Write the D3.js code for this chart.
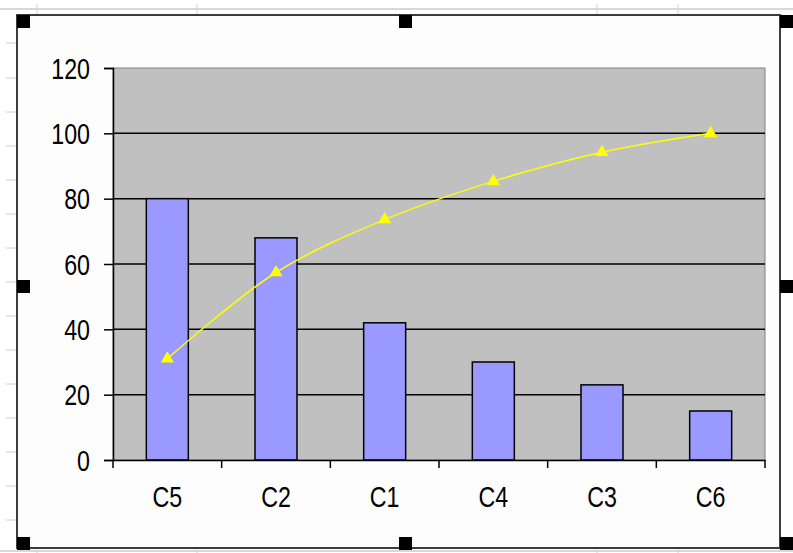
<!DOCTYPE html>
<html>
<head>
<meta charset="utf-8">
<script src="https://cdn.jsdelivr.net/npm/d3@7"></script>
<style>
  body { margin: 0; background: #fff; }
  svg text { font-family: "Liberation Sans", Arial, sans-serif; fill: #000; }
</style>
</head>
<body>
<svg width="793" height="553"></svg>
<script>
// **** data ****
var categories = ["C5", "C2", "C1", "C4", "C3", "C6"];
var counts = [80, 68, 42, 30, 23, 15];
var cumulative = [31, 57.4, 73.6, 85.3, 94.2, 100];
var yTicks = [0, 20, 40, 60, 80, 100, 120];

var svg = d3.select("svg");

// **** spreadsheet behind the chart ****
var sheet = svg.append("g").attr("class", "sheet");
sheet.append("line").attr("x1", 0).attr("x2", 793).attr("y1", 9).attr("y2", 9)
    .attr("stroke", "#d8d8d8").attr("stroke-width", 2);
sheet.append("line").attr("x1", 0).attr("x2", 793).attr("y1", 551).attr("y2", 551)
    .attr("stroke", "#d8d8d8").attr("stroke-width", 2);
[37, 197, 597, 678].forEach(function(x) {
    sheet.append("line").attr("x1", x).attr("x2", x).attr("y1", 4).attr("y2", 15)
        .attr("stroke", "#d0d0d0");
    sheet.append("line").attr("x1", x).attr("x2", x).attr("y1", 547).attr("y2", 553)
        .attr("stroke", "#d0d0d0");
});
[43, 78, 112, 146, 180, 214, 248, 282, 316, 350, 384, 418, 452, 486, 520].forEach(function(y) {
    sheet.append("line").attr("x1", 6).attr("x2", 17).attr("y1", y).attr("y2", y)
        .attr("stroke", "#d0d0d0");
});

// chart area frame
svg.append("rect").attr("x", 17).attr("y", 15).attr("width", 763).attr("height", 533)
    .attr("fill", "#fdfdfd").attr("stroke", "#3c3c3c").attr("stroke-width", 2);

// **** scales and axes ****
var x = d3.scaleBand().domain(categories).range([113, 765]);
var y = d3.scaleLinear().domain([0, 120]).range([460, 68]);

var plot = svg.append("g").attr("class", "plot");
plot.append("rect").attr("x", 113).attr("y", 68).attr("width", 652).attr("height", 392)
    .attr("fill", "#c0c0c0").attr("stroke", "#808080").attr("stroke-width", 1);

// gridlines
plot.selectAll("line.grid")
    .data(yTicks.filter(function(d) { return d > 0 && d < 120; }))
    .enter().append("line")
    .attr("class", "grid")
    .attr("x1", 113).attr("x2", 765)
    .attr("y1", function(d) { return y(d); })
    .attr("y2", function(d) { return y(d); })
    .attr("stroke", "#000").attr("stroke-width", 1.5);

// bars
plot.selectAll("rect.bar")
    .data(counts)
    .enter().append("rect")
    .attr("class", "bar")
    .attr("x", function(d, i) { return x(categories[i]) + x.bandwidth() / 2 - 21; })
    .attr("width", 42)
    .attr("y", function(d) { return y(d); })
    .attr("height", function(d) { return y(0) - y(d); })
    .attr("fill", "#9999ff").attr("stroke", "#000").attr("stroke-width", 1.5);

// tall narrow labels like the old Excel screen font
function squeeze(sel, dx, dy) {
    sel.style("font-size", "29px")
        .attr("x", null).attr("y", null).attr("dy", null)
        .attr("transform", "translate(" + dx + "," + dy + ") scale(0.8,1)");
}

// y axis
var yAxis = svg.append("g").attr("transform", "translate(113,0)")
    .call(d3.axisLeft(y).tickValues(yTicks).tickSize(9));
yAxis.select(".domain").attr("stroke", "#000").attr("stroke-width", 1.5);
yAxis.selectAll(".tick line").attr("stroke", "#000").attr("stroke-width", 1.5);
squeeze(yAxis.selectAll("text"), -23, 10);

// x axis, ticks on the category boundaries
var xAxis = svg.append("g").attr("transform", "translate(0,460)")
    .call(d3.axisBottom(x).tickSize(0));
xAxis.select(".domain").attr("stroke", "#000").attr("stroke-width", 1.5);
squeeze(xAxis.selectAll("text"), 0, 47);
xAxis.selectAll("line.edge")
    .data(categories.concat(["end"]))
    .enter().append("line")
    .attr("class", "edge")
    .attr("x1", function(d, i) { return 113 + i * x.step(); })
    .attr("x2", function(d, i) { return 113 + i * x.step(); })
    .attr("y1", 0).attr("y2", 8)
    .attr("stroke", "#000").attr("stroke-width", 1.5);

// cumulative line
var cx = function(d, i) { return x(categories[i]) + x.bandwidth() / 2; };
var line = d3.line()
    .x(cx)
    .y(function(d) { return y(d); })
    .curve(d3.curveCatmullRom.alpha(0.5));
plot.append("path").datum(cumulative)
    .attr("d", line)
    .attr("fill", "none").attr("stroke", "#ffff00").attr("stroke-width", 1.5);
plot.selectAll("path.marker")
    .data(cumulative)
    .enter().append("path")
    .attr("class", "marker")
    .attr("d", d3.symbol().type(d3.symbolTriangle).size(75))
    .attr("transform", function(d, i) { return "translate(" + cx(d, i) + "," + y(d) + ")"; })
    .attr("fill", "#ffff00");

// selection handles
var hx = [17, 399, 780], hy = [15, 280, 537];
var handles = [];
hy.forEach(function(yy, r) {
    hx.forEach(function(xx, c) {
        if (!(r === 1 && c === 1)) handles.push([xx, yy]);
    });
});
svg.selectAll("rect.handle")
    .data(handles)
    .enter().append("rect")
    .attr("class", "handle")
    .attr("x", function(d) { return d[0]; })
    .attr("y", function(d) { return d[1]; })
    .attr("width", 13).attr("height", 13)
    .attr("fill", "#000");
</script>
</body>
</html>
